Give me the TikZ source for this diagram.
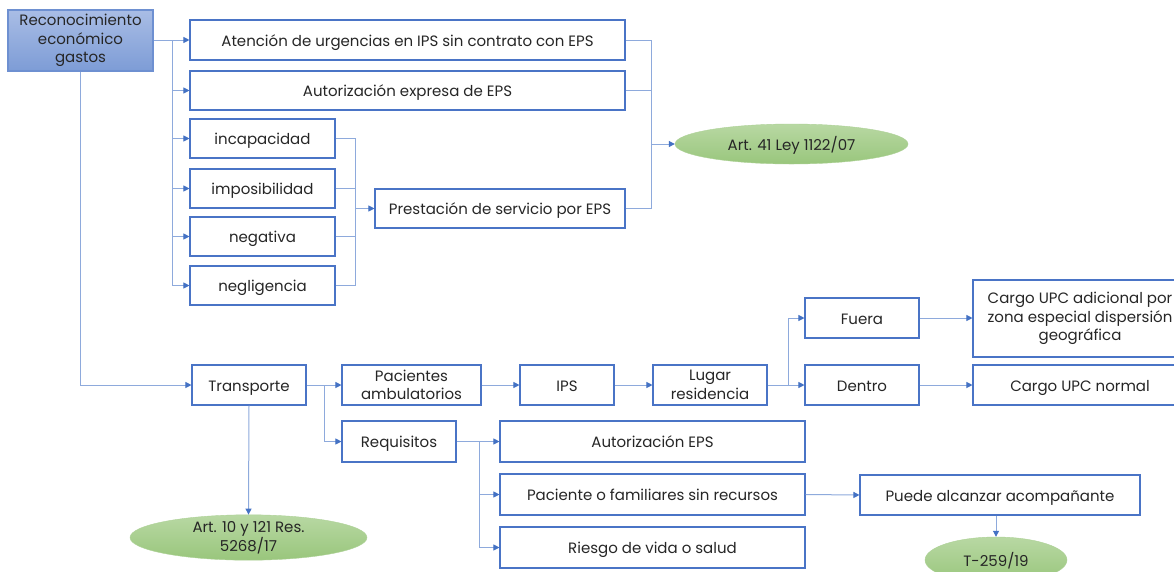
\documentclass[tikz,border=0pt]{standalone}
\usepackage{fontspec}
\setmainfont{Poppins}
\usetikzlibrary{arrows.meta,shapes.geometric,shadings}
\definecolor{boxblue}{HTML}{4A74C6}
\definecolor{lineblue}{HTML}{8EAADC}
\definecolor{tipblue}{HTML}{4472C4}
\definecolor{txt}{HTML}{262626}
\definecolor{greenT}{HTML}{B8D8A3}
\definecolor{greenB}{HTML}{99C67C}
\definecolor{headT}{HTML}{A9BDE5}
\definecolor{headB}{HTML}{7D9CD6}
\tikzset{
  box/.style={draw=boxblue, line width=1.1pt, fill=white, text=txt, align=center,
    inner sep=2pt, font=\fontsize{15}{18.5}\selectfont},
  oneline/.style={text height=12pt, text depth=0pt},
  head/.style={box, draw=boxblue!80, top color=headT, bottom color=headB},
  law/.style={ellipse, draw=greenB!80, line width=0.4pt, top color=greenT, bottom color=greenB,
    text=txt, align=center, inner sep=0pt, font=\fontsize{15}{18.5}\selectfont},
  conn/.style={draw=lineblue, line width=1pt},
  arr/.style={conn, -{Triangle[length=6pt,width=6pt,color=tipblue]}},
}
\begin{document}
\begin{tikzpicture}[x=1pt,y=-1pt]
\useasboundingbox (0,0) rectangle (1174,571);
\fill[white] (0,0) rectangle (1174,571);

% upper branch
\node[head, minimum width=145pt, minimum height=61pt] (rec) at (80.5,40.5) {Reconocimiento\\económico\\gastos};
\node[box, oneline, minimum width=435pt, minimum height=40pt] (aten) at (407.5,40) {Atención de urgencias en IPS sin contrato con EPS};
\node[box, oneline, minimum width=435pt, minimum height=39pt] (autx) at (407.5,90.5) {Autorización expresa de EPS};
\node[box, oneline, minimum width=145pt, minimum height=39pt] (inca) at (262.5,138.5) {incapacidad};
\node[box, oneline, minimum width=145pt, minimum height=39pt] (impo) at (262.5,188.5) {imposibilidad};
\node[box, oneline, minimum width=145pt, minimum height=39pt] (nega) at (262.5,236.5) {negativa};
\node[box, oneline, minimum width=145pt, minimum height=39pt] (negl) at (262.5,285.5) {negligencia};
\node[box, oneline, minimum width=250pt, minimum height=39pt] (pres) at (500,208.5) {Prestación de servicio por EPS};
\node[law, oneline, minimum width=233pt, minimum height=40pt] (art41) at (791.5,144) {Art. 41 Ley 1122/07};

% lower branch
\node[box, oneline, minimum width=114pt, minimum height=40pt] (tran) at (249,385) {Transporte};
\node[box, minimum width=139pt, minimum height=40pt] (paci) at (411.5,385) {Pacientes\\ambulatorios};
\node[box, oneline, minimum width=114pt, minimum height=41pt] (requ) at (399,441.5) {Requisitos};
\node[law, minimum width=237pt, minimum height=41pt] (art10) at (248.5,537.5) {Art. 10 y 121 Res.\\5268/17};
\node[box, oneline, minimum width=94pt, minimum height=40pt] (ips) at (567,385) {IPS};
\node[box, minimum width=114pt, minimum height=40pt] (luga) at (710,385) {Lugar\\residencia};
\node[box, oneline, minimum width=114pt, minimum height=40pt] (fuer) at (862,318) {Fuera};
\node[box, oneline, minimum width=114pt, minimum height=40pt] (dent) at (862,385) {Dentro};
\node[box, minimum width=214pt, minimum height=77pt] (carA) at (1080,318.5) {Cargo UPC adicional por\\zona especial dispersión\\geográfica};
\node[box, oneline, minimum width=214pt, minimum height=40pt] (carN) at (1080,385) {Cargo UPC normal};
\node[box, oneline, minimum width=305pt, minimum height=41pt] (aeps) at (652.5,441.5) {Autorización EPS};
\node[box, oneline, minimum width=305pt, minimum height=41pt] (sinr) at (652.5,494.5) {Paciente o familiares sin recursos};
\node[box, oneline, minimum width=305pt, minimum height=41pt] (ries) at (652.5,547.5) {Riesgo de vida o salud};
\node[box, oneline, minimum width=280pt, minimum height=40pt] (pued) at (1000,495) {Puede alcanzar acompañante};
\node[law, oneline, minimum width=142pt, minimum height=46pt] (t259) at (996,560) {T-259/19};

% bus from the heading box
\draw[conn] (rec.east) -- ++(19,0) coordinate (bA);
\foreach \n in {aten,autx,inca,impo,nega,negl} \draw[arr] (bA) |- (\n.west);
\draw[arr] (rec.south) |- (tran.west);

% causes feeding the service box
\path (inca.east) -- ++(20,0) coordinate (bB);
\foreach \n in {inca,impo,nega,negl} \draw[conn] (\n.east) -| (bB |- pres.west);
\draw[arr] (bB |- pres.west) -- (pres.west);

% sources of the legal reference
\path (aten.east) -- ++(26,0) coordinate (bC);
\foreach \n in {aten,autx,pres} \draw[conn] (\n.east) -| (bC |- art41.west);
\draw[arr] (bC |- art41.west) -- (art41.west);

% transport
\draw[arr] (tran.south) -- (art10.north);
\draw[conn] (tran.east) -- ++(18,0) coordinate (bD);
\draw[arr] (bD) -- (paci.west);
\draw[arr] (bD) |- (requ.west);
\draw[arr] (paci) -- (ips);
\draw[arr] (ips) -- (luga);
\draw[conn] (luga.east) -- ++(21,0) coordinate (bE);
\draw[arr] (bE) |- (fuer.west);
\draw[arr] (bE) -- (dent.west);
\draw[arr] (fuer.east) -- (carA.west |- fuer.east);
\draw[arr] (dent) -- (carN);

% requirements
\draw[conn] (requ.east) -- ++(23,0) coordinate (bF);
\foreach \n in {aeps,sinr,ries} \draw[arr] (bF) |- (\n.west);
\draw[arr] (sinr.east) -- (pued.west);
\draw[arr] (pued.south -| t259.north) -- (t259.north);
\end{tikzpicture}
\end{document}
